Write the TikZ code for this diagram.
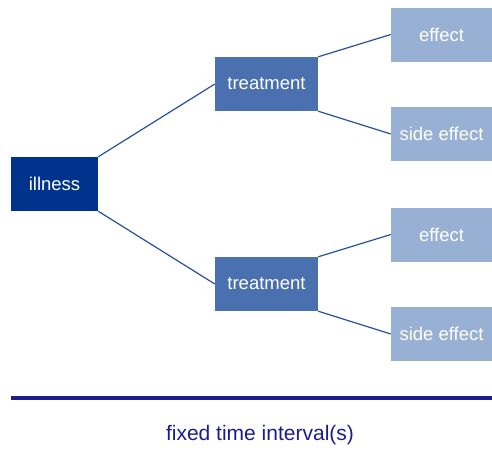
\documentclass[tikz,border=0pt]{standalone}
\usepackage{fontspec}
\setmainfont{Liberation Sans}
\definecolor{illcol}{RGB}{0,52,140}
\definecolor{trtcol}{RGB}{74,112,176}
\definecolor{effcol}{RGB}{152,176,212}
\definecolor{linecol}{RGB}{40,80,160}
\definecolor{navy}{RGB}{28,28,140}
\begin{document}
\begin{tikzpicture}[x=1pt,y=-1pt,
  box/.style={rectangle, inner sep=0pt, text=white, font=\fontsize{18.5}{20}\selectfont, minimum height=54pt},
  illbox/.style={box, fill=illcol, minimum width=87pt},
  trtbox/.style={box, fill=trtcol, minimum width=103pt},
  effbox/.style={box, fill=effcol, minimum width=101pt},
  conn/.style={draw=linecol, line width=1.2pt}]
\useasboundingbox (0,0) rectangle (492,450);
\node[illbox] (ill) at (54.5,184) {illness};
\node[trtbox] (t1) at (266.5,84) {treatment};
\node[trtbox] (t2) at (266.5,284) {treatment};
\node[effbox] (e1) at (441.5,34.5) {effect};
\node[effbox] (s1) at (441.5,134) {side effect};
\node[effbox] (e2) at (441.5,234.5) {effect};
\node[effbox] (s2) at (441.5,334) {side effect};
\draw[conn] (ill.north east) -- (t1.west);
\draw[conn] (ill.south east) -- (t2.west);
\draw[conn] (t1.north east) -- (e1.west);
\draw[conn] (t1.south east) -- (s1.west);
\draw[conn] (t2.north east) -- (e2.west);
\draw[conn] (t2.south east) -- (s2.west);
\coordinate (la) at (11,398);
\coordinate (lb) at (492,398);
\draw[navy, line width=4pt] (la) -- (lb);
\node[text=navy, font=\fontsize{21}{24}\selectfont] (lbl) at (260,435) {fixed time interval(s)};
\end{tikzpicture}
\end{document}
